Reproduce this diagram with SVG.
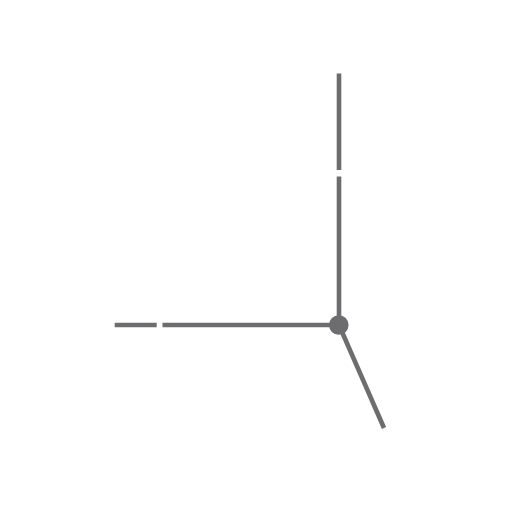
<svg xmlns="http://www.w3.org/2000/svg" width="512" height="512" viewBox="0 0 512 512">
<style>
.l{stroke:#6d6d70;stroke-width:4.6;fill:none;stroke-linecap:butt}
</style>
<rect width="512" height="512" fill="#fff"/>
<g id="connectors">
<line class="l" x1="339" y1="73.5" x2="339" y2="170"/>
<line class="l" x1="339" y1="176.5" x2="339" y2="325"/>
<line class="l" x1="114.7" y1="325" x2="156.7" y2="325"/>
<line class="l" x1="162.5" y1="325" x2="339" y2="325"/>
<line class="l" x1="339" y1="325" x2="384" y2="428"/>
</g>
<g id="node"><circle cx="338.8" cy="325" r="9.8" fill="#6d6d70"/></g>
</svg>
